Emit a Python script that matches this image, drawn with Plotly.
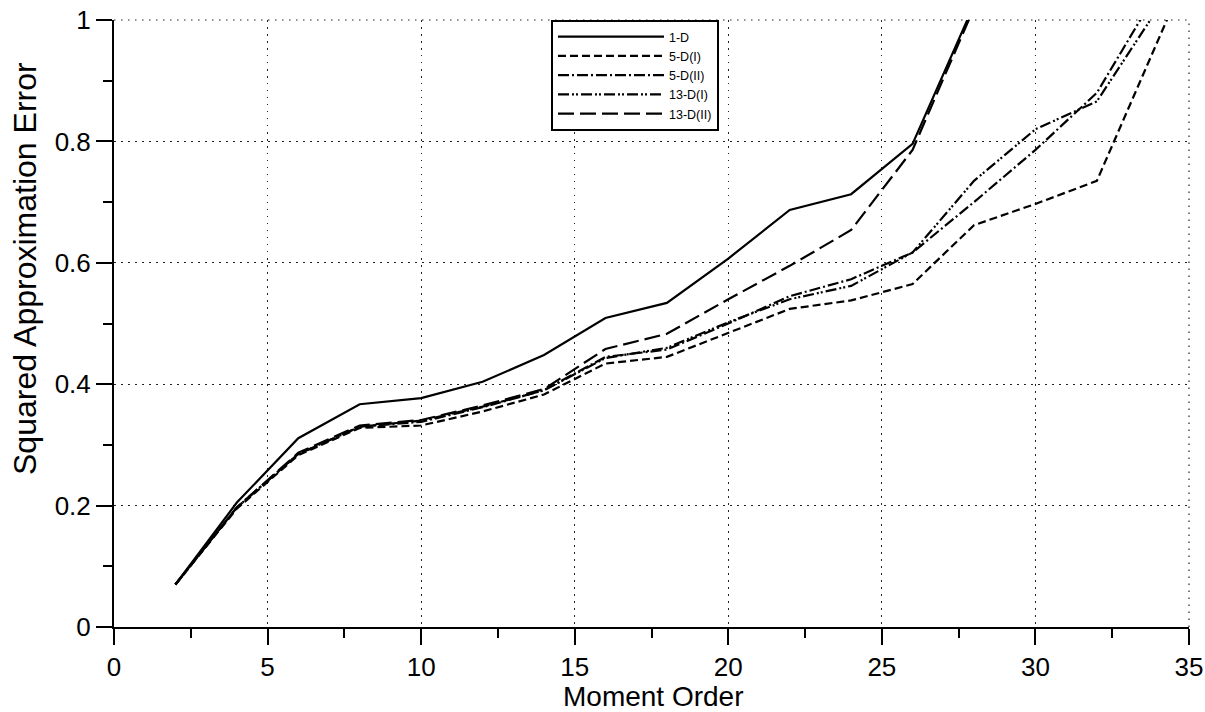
import plotly.graph_objects as go

x_short = [2, 4, 6, 8, 10, 12, 14, 16, 18, 20, 22, 24, 26, 28]
x_long = [2, 4, 6, 8, 10, 12, 14, 16, 18, 20, 22, 24, 26, 28, 30, 32, 34]
x_5d1 = [2, 4, 6, 8, 10, 12, 14, 16, 18, 20, 22, 24, 26, 28, 30, 32, 34, 36]

y_1d = [0.07, 0.205, 0.311, 0.367, 0.377, 0.404, 0.448, 0.509, 0.534, 0.607, 0.687, 0.713, 0.796, 1.025]
y_5d1 = [0.07, 0.195, 0.283, 0.328, 0.332, 0.355, 0.383, 0.434, 0.445, 0.485, 0.524, 0.538, 0.565, 0.662, 0.697, 0.735, 0.97, 1.2]
y_5d2 = [0.07, 0.197, 0.285, 0.330, 0.338, 0.362, 0.390, 0.445, 0.457, 0.500, 0.545, 0.573, 0.617, 0.700, 0.786, 0.880, 1.05]
y_13d1 = [0.07, 0.197, 0.285, 0.330, 0.340, 0.363, 0.390, 0.443, 0.460, 0.502, 0.540, 0.562, 0.617, 0.735, 0.820, 0.866, 1.02]
y_13d2 = [0.07, 0.197, 0.287, 0.332, 0.341, 0.365, 0.392, 0.458, 0.483, 0.540, 0.595, 0.654, 0.786, 1.02]

names = ["1-D", "5-D(I)", "5-D(II)", "13-D(I)", "13-D(II)"]
dashes = ["solid", "8px,4px", "11px,3px,2px,3px", "11px,3px,2px,2px,2px,3px", "16px,6px"]

x_ticks = [0, 5, 10, 15, 20, 25, 30, 35]
x_minor = [2.5, 7.5, 12.5, 17.5, 22.5, 27.5, 32.5]
y_ticks = [0, 0.2, 0.4, 0.6, 0.8, 1.0]
y_ticklabels = ["0", "0.2", "0.4", "0.6", "0.8", "1"]
y_minor = [0.1, 0.3, 0.5, 0.7, 0.9]

fig = go.Figure()
series = [(x_short, y_1d), (x_5d1, y_5d1), (x_long, y_5d2), (x_long, y_13d1), (x_short, y_13d2)]
for (xs, ys), nm, ds in zip(series, names, dashes):
    fig.add_trace(go.Scatter(x=xs, y=ys, mode="lines", name=nm,
                             line=dict(color="black", width=2.2, dash=ds)))

font_family = "Liberation Sans, Arial, Helvetica, sans-serif"
grid_dash = "1.5px,5.5px"
fig.update_layout(
    width=1205, height=712,
    paper_bgcolor="white", plot_bgcolor="white",
    margin=dict(l=114, r=16, t=20, b=85),
    font=dict(family=font_family, color="black"),
    showlegend=True,
    legend=dict(x=0.4065, y=1.0, xanchor="left", yanchor="top",
                bgcolor="white", bordercolor="black", borderwidth=2,
                font=dict(size=12.5, family=font_family), itemwidth=106,
                tracegroupgap=0),
)
fig.update_xaxes(
    range=[0, 35], tickmode="array", tickvals=x_ticks,
    ticks="outside", ticklen=16, tickwidth=1.5, tickcolor="black",
    showline=True, linecolor="black", linewidth=2,
    showgrid=True, gridcolor="#222", griddash=grid_dash, gridwidth=1.2,
    zeroline=False, automargin=False, ticklabeloverflow="allow",
    minor=dict(tickvals=x_minor, ticks="outside", ticklen=9, tickcolor="black", tickwidth=1.5, showgrid=False),
    tickfont=dict(size=26),
)
fig.update_yaxes(
    range=[0, 1], tickmode="array", tickvals=y_ticks, ticktext=y_ticklabels,
    ticks="outside", ticklen=16, tickwidth=1.5, tickcolor="black",
    showline=True, linecolor="black", linewidth=2,
    showgrid=True, gridcolor="#222", griddash=grid_dash, gridwidth=1.2,
    zeroline=False, automargin=False, ticklabeloverflow="allow",
    minor=dict(tickvals=y_minor, ticks="outside", ticklen=9, tickcolor="black", tickwidth=1.5, showgrid=False),
    tickfont=dict(size=26),
)
# dotted grid lines along the top and right edges of the plot area
fig.add_shape(type="line", xref="paper", yref="paper", x0=0, x1=1, y0=1, y1=1,
              line=dict(color="#222", width=1.2, dash=grid_dash), layer="below")
fig.add_shape(type="line", xref="paper", yref="paper", x0=1, x1=1, y0=0, y1=1,
              line=dict(color="#222", width=1.2, dash=grid_dash), layer="below")

fig.add_annotation(text="Moment Order", xref="paper", yref="paper", x=0.502, y=-0.1145,
                   xanchor="center", yanchor="middle", showarrow=False, font=dict(size=28))
fig.add_annotation(text="Squared Approximation Error", xref="paper", yref="paper", x=-0.0828, y=0.5914,
                   xanchor="center", yanchor="middle", showarrow=False, textangle=-90, font=dict(size=32))

fig.write_html("out.html", config={"displayModeBar": False},
               post_script="document.body.style.margin='0';document.body.style.overflow='hidden';")
